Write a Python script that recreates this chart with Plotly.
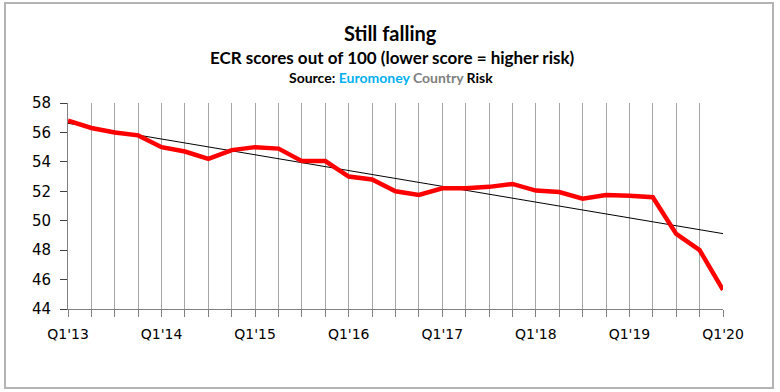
import numpy as np
import plotly.graph_objects as go

quarters = [f"Q{q}'{y}" for y in range(13, 21) for q in range(1, 5)][:29]
scores = [56.8, 56.3, 56.0, 55.8, 55.0, 54.7, 54.2, 54.8, 55.0, 54.9, 54.05, 54.05,
          53.0, 52.8, 52.0, 51.75, 52.2, 52.2, 52.3, 52.5, 52.05, 51.95, 51.5, 51.75,
          51.7, 51.6, 49.1, 48.0, 45.3]
tick_labels = [q if q.startswith("Q1") else "" for q in quarters]
y_ticks = [44, 46, 48, 50, 52, 54, 56, 58]

xi = np.arange(len(scores))
slope, intercept = np.polyfit(xi, scores, 1)
trend = slope * xi + intercept

fig = go.Figure()
fig.add_trace(go.Scatter(x=quarters, y=trend, mode="lines",
                         line=dict(color="#000000", width=1), hoverinfo="skip"))
fig.add_trace(go.Scatter(x=quarters, y=scores, mode="lines",
                         line=dict(color="#FF0000", width=4.5)))

L, R, T, B = 68, 57, 103, 83
pw, ph = 780 - L - R, 392 - T - B

def px_x(x):
    return (x - L) / pw

def px_y(y):
    return 1 + (T - y) / ph

fig.update_layout(
    width=780, height=392,
    margin=dict(l=L, r=R, t=T, b=B),
    paper_bgcolor="white", plot_bgcolor="white",
    showlegend=False,
    font=dict(family="DejaVu Sans", color="#000000"),
    xaxis=dict(type="category", tickmode="array", tickvals=quarters, ticktext=tick_labels,
               range=[0, len(quarters) - 1], showgrid=True, gridcolor="#A6A6A6", gridwidth=1,
               showline=True, linecolor="#808080", linewidth=1,
               ticks="outside", ticklen=7, tickcolor="#808080", ticklabelstandoff=5,
               tickfont=dict(size=14, family="DejaVu Sans"), zeroline=False),
    yaxis=dict(range=[44, 58], tickvals=y_ticks, showgrid=False,
               showline=True, linecolor="#808080", linewidth=1,
               ticks="outside", ticklen=7, tickcolor="#404040", ticklabelstandoff=6,
               tickfont=dict(size=15, family="DejaVu Sans"), zeroline=False),
    shapes=[dict(type="rect", xref="paper", yref="paper",
                 x0=px_x(5), x1=px_x(773), y0=px_y(388), y1=px_y(3),
                 line=dict(color="#B4B4B4", width=2), fillcolor="rgba(0,0,0,0)", layer="below")],
    annotations=[
        dict(text="<b>Still falling</b>", x=px_x(390), xref="paper", xanchor="center", yref="paper",
             y=px_y(33), yanchor="middle", showarrow=False, font=dict(family="Lato", size=20)),
        dict(text="<b>ECR scores out of 100 (lower score = higher risk)</b>", xref="paper", x=px_x(392),
             xanchor="center", yref="paper", y=px_y(57), yanchor="middle", showarrow=False,
             font=dict(family="Lato", size=17)),
        dict(text="<b>Source: <span style='color:#00B0F0'>Euromoney</span> <span style='color:#808080'>Country</span> Risk</b>",
             xref="paper", x=px_x(391), xanchor="center", yref="paper", y=px_y(77), yanchor="middle",
             showarrow=False, font=dict(family="Lato", size=14)),
    ],
)

fig.write_html("out.html", config={"displayModeBar": False},
               post_script="document.body.style.margin='0';")
